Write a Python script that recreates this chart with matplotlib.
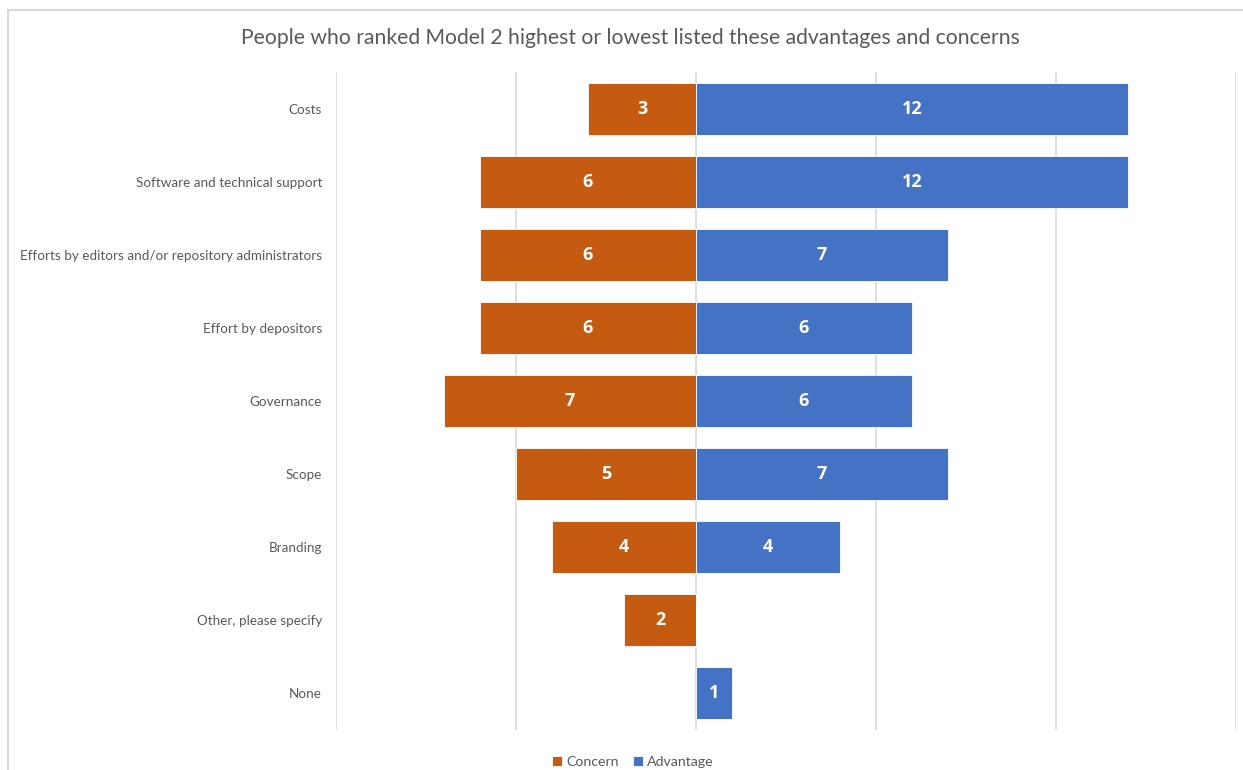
import matplotlib.pyplot as plt
import matplotlib
from matplotlib.patches import Rectangle

matplotlib.rcParams['font.family'] = ['Lato', 'DejaVu Sans']

categories = ['Costs', 'Software and technical support',
              'Efforts by editors and/or repository administrators',
              'Effort by depositors', 'Governance', 'Scope', 'Branding',
              'Other, please specify', 'None']
concern = [3, 6, 6, 6, 7, 5, 4, 2, 0]
advantage = [12, 12, 7, 6, 6, 7, 4, 0, 1]

orange = '#C55A11'
blue = '#4472C4'
grey = '#595959'

fig = plt.figure(figsize=[12.43, 7.7], dpi=100)
ax = fig.add_axes([336/1243, 1-730/770, 900/1243, 658/770])

y = list(range(len(categories)))
neg = [-c for c in concern]
ax.barh(y, neg, height=0.71, color=orange, edgecolor='white', linewidth=0.6, label='Concern', zorder=2)
ax.barh(y, advantage, height=0.71, color=blue, edgecolor='white', linewidth=0.6, label='Advantage', zorder=2)

for i in y:
    if concern[i] > 0:
        ax.text(neg[i]/2, i, str(concern[i]), ha='center', va='center', family='Open Sans',
                color='white', fontsize=13, fontweight='bold', zorder=3)
    if advantage[i] > 0:
        ax.text(advantage[i]/2, i, str(advantage[i]), ha='center', va='center', family='Open Sans',
                color='white', fontsize=13, fontweight='bold', zorder=3)

ax.set_xlim(-10, 15)
ax.set_ylim(len(categories)-0.5, -0.5)
ax.set_xticks([-10, -5, 0, 5, 10, 15])
ax.set_xticklabels([])
ax.grid(axis='x', color='#D9D9D9', linewidth=1.2, zorder=0)
ax.tick_params(axis='both', length=0)
ax.set_yticks(y)
ax.set_yticklabels(categories, fontsize=9.7, color=grey)
ax.tick_params(axis='y', pad=10)
for s in ax.spines.values():
    s.set_visible(False)

fig.text(630/1243, 1-38/770, 'People who ranked Model 2 highest or lowest listed these advantages and concerns',
         ha='center', va='center', fontsize=15.2, color=grey)

leg = fig.legend(loc='center', bbox_to_anchor=(633/1243, 1-762/770), ncol=2, frameon=False,
                 fontsize=10.2, handlelength=0.7, handleheight=0.7, handletextpad=0.3, columnspacing=1.0)
for t in leg.get_texts():
    t.set_color(grey)

fig.patches.append(Rectangle((8/1243, -0.05), 1.1, 1-10/770 + 0.05, transform=fig.transFigure,
                             fill=False, edgecolor='#D9D9D9', linewidth=1.5))

plt.savefig('out.png', dpi=100)
